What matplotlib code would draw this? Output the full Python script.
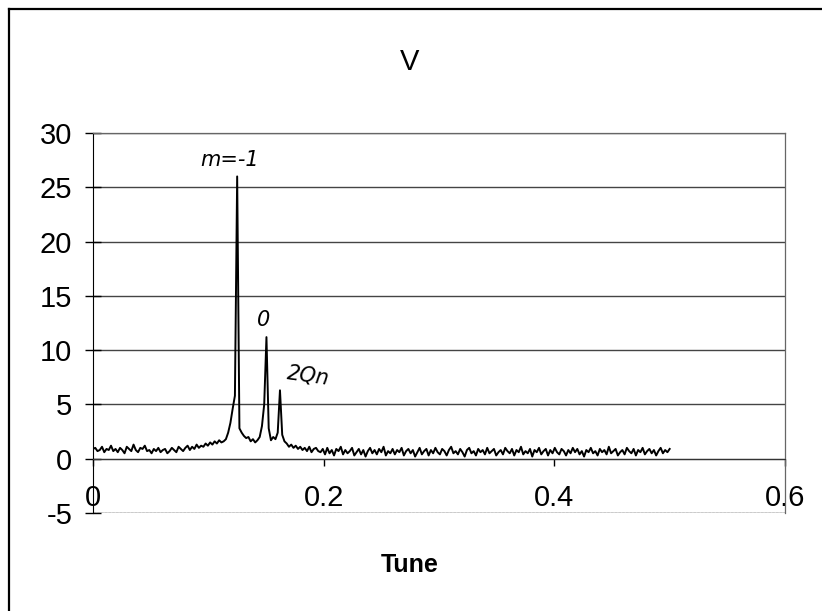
import numpy as np
import matplotlib
matplotlib.use("Agg")
import matplotlib.pyplot as plt
from matplotlib.lines import Line2D

plt.rcParams['font.family'] = ['Liberation Sans', 'DejaVu Sans']
plt.rcParams['axes.unicode_minus'] = False

# Spectrum bin width (tune units) for the 257 FFT bins from 0 to 0.5
tune_step = 0.5 / 256

# Amplitude, bins 0-50: flat noise floor below the sidebands
v_low = [0.9, 1.0, 0.7, 0.8, 1.1, 0.6, 0.9, 0.8, 1.2, 0.7,
         0.9, 0.6, 1.0, 0.8, 0.5, 1.1, 0.9, 0.7, 1.3, 0.8,
         0.6, 1.0, 0.9, 1.2, 0.7, 0.8, 0.5, 0.9, 0.7, 1.0,
         0.6, 0.8, 0.9, 0.5, 0.7, 1.0, 0.8, 0.6, 1.1, 0.9,
         0.7, 1.0, 1.2, 0.8, 1.1, 0.9, 1.3, 1.0, 1.2, 1.1,
         1.4]

# Bins 51-100: the m=-1, m=0 and 2Qn lines with their shoulders
v_peaks = [1.2, 1.5, 1.3, 1.6, 1.4, 1.7,
           1.5, 1.6, 1.8, 2.4, 3.3, 4.6, 5.8, 26.0, 2.8, 2.4,
           2.1, 1.9, 2.0, 1.6, 1.8, 1.5, 1.7, 2.0, 3.0, 5.0,
           11.2, 2.8, 1.7, 2.0, 1.8, 2.4, 6.3, 2.2, 1.6, 1.4,
           1.1, 1.3, 1.0,
           1.2, 0.9, 1.1, 0.8, 1.0, 0.7, 1.1, 0.6, 0.9, 1.0, 0.7]

# Bins 101-256: noise floor up to tune 0.5
v_high = [0.6, 0.9, 0.4, 1.0, 0.5, 0.8, 0.3, 0.9, 0.7, 1.1, 0.4, 0.8,
          0.5, 0.7, 1.0, 0.3, 0.6, 0.9, 0.4, 0.8, 0.2, 0.7, 1.0, 0.5,
          0.8, 0.4, 0.9, 0.6, 1.1, 0.3, 0.7, 0.5, 0.9, 0.4, 0.8, 0.6,
          1.0, 0.3, 0.7, 0.9, 0.5, 0.8, 0.2, 0.6, 1.0, 0.4, 0.7, 0.9,
          0.3, 0.8, 0.5, 1.0, 0.6, 0.4, 0.9, 0.7, 0.3, 0.8, 1.1, 0.5,
          0.7, 0.4, 0.9, 0.6, 0.2, 0.8, 1.0, 0.5, 0.7, 0.3, 0.9, 0.6,
          0.8, 0.4, 1.0, 0.5, 0.7, 0.9, 0.3, 0.6, 0.8, 0.4, 1.0, 0.7,
          0.5, 0.9, 0.3, 0.8, 0.6, 1.1, 0.4, 0.7, 0.5, 0.9, 0.2, 0.8,
          0.6, 1.0, 0.4, 0.7, 0.9, 0.3, 0.8, 0.5, 1.0, 0.6, 0.4, 0.9,
          0.7, 0.3, 0.8, 0.5, 1.0, 0.6, 0.9, 0.4, 0.7, 0.2, 0.8, 0.6,
          1.0, 0.5, 0.7, 0.3, 0.9, 0.6, 0.8, 0.4, 1.1, 0.5, 0.7, 0.9,
          0.3, 0.6, 0.8, 0.4, 1.0, 0.7, 0.5, 0.9, 0.3, 0.8, 0.6, 1.0,
          0.4, 0.7, 0.9, 0.5, 0.8, 0.3, 0.7, 1.0, 0.5, 0.8, 0.6, 0.9]

amplitude = np.array(v_low + v_peaks + v_high)
tune = np.arange(len(amplitude)) * tune_step

y_ticks = [-5, 0, 5, 10, 15, 20, 25, 30]
x_ticks = [0, 0.2, 0.4, 0.6]
x_tick_labels = ["0", "0.2", "0.4", "0.6"]

# Hand-written line identifications: (text, tune, amplitude)
notes = [("m=-1", 0.118, 27.5), ("0", 0.148, 12.8), ("2Qn", 0.187, 7.7)]

W, H = 822, 611
fig = plt.figure(figsize=(W / 100, H / 100), dpi=100)
fig.patch.set_facecolor("white")

# Chart-area frame (top and left edges visible)
fig.add_artist(Line2D([9 / W, 9 / W], [0, 1 - 9 / H], transform=fig.transFigure,
                      color="black", lw=1.6))
fig.add_artist(Line2D([9 / W, 1], [1 - 9 / H, 1 - 9 / H], transform=fig.transFigure,
                      color="black", lw=1.6))

ax = fig.add_axes([93 / W, (H - 513) / H, (785 - 93) / W, (513 - 133) / H])
ax.set_xlim(0, 0.6)
ax.set_ylim(-5, 30)

ax.set_yticks(y_ticks)
ax.yaxis.grid(True, color="#444444", lw=1.0)
ax.set_axisbelow(True)

# x axis crosses at zero; plot-area border in grey
ax.spines["bottom"].set_position(("data", 0))
ax.spines["bottom"].set_color("#333333")
ax.spines["left"].set_position(("data", 0))
ax.spines["left"].set_color("black")
for side in ("top", "right"):
    ax.spines[side].set_color("#666666")
    ax.spines[side].set_linewidth(0.9)
ax.axhline(-5, color="#666666", lw=0.9, ls=(0, (2, 1)), zorder=1)

ax.set_xticks(x_ticks)
ax.set_xticklabels(x_tick_labels)
ax.tick_params(axis="x", direction="out", length=5, width=1, pad=13,
               labelsize=21, colors="black")
ax.tick_params(axis="y", direction="inout", length=12, width=1, pad=9,
               labelsize=21, colors="black")

ax.plot(tune, amplitude, color="black", lw=1.4, zorder=3)

for text, tx, ty in notes:
    ax.text(tx, ty, text, fontsize=15, family=["DejaVu Sans"], style="italic",
            ha="center", va="center", rotation=-8 if text == "2Qn" else 0)

fig.text(410 / W, 1 - 62 / H, "V", fontsize=21, ha="center", va="center")
fig.text(410 / W, 1 - 565 / H, "Tune", fontsize=18, fontweight="bold",
         ha="center", va="center")

fig.savefig("out.png", dpi=100)
